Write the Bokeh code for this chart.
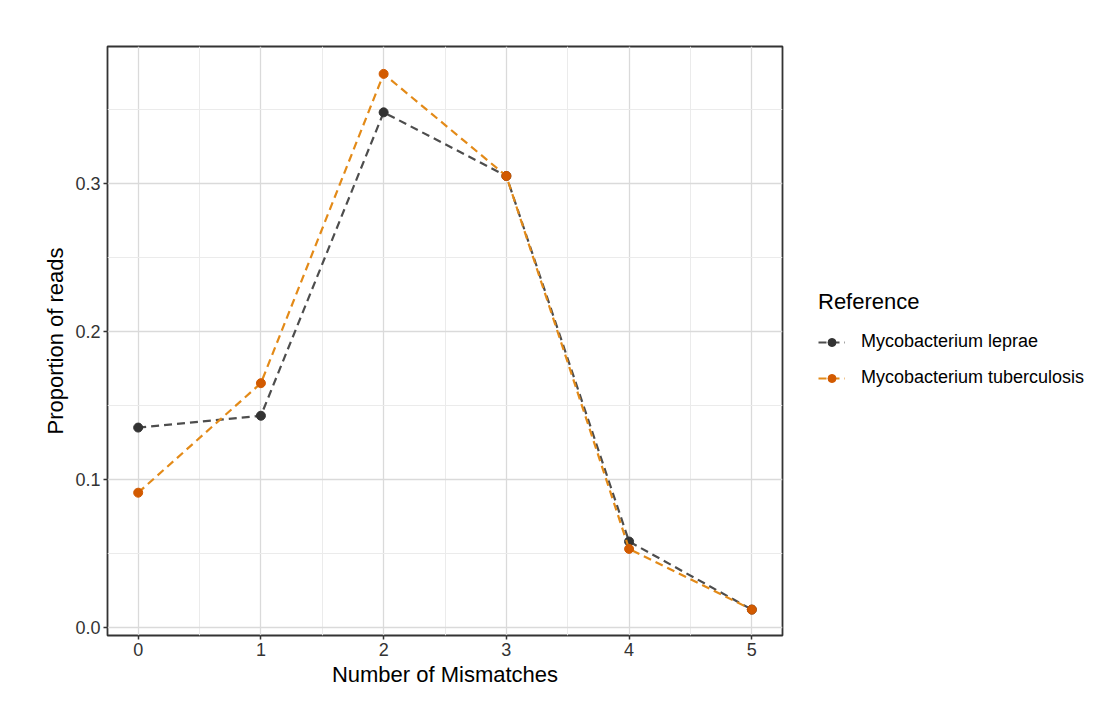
from bokeh.plotting import figure
from bokeh.models import Range1d, FixedTicker, NumeralTickFormatter, Legend, LegendItem, ColumnDataSource
from bokeh.embed import file_html
from bokeh.resources import INLINE

mismatches = [0, 1, 2, 3, 4, 5]
leprae = [0.135, 0.143, 0.348, 0.305, 0.058, 0.012]
tuberculosis = [0.091, 0.165, 0.374, 0.305, 0.053, 0.012]
x_ticks = [0, 1, 2, 3, 4, 5]
y_ticks = [0.0, 0.1, 0.2, 0.3]
series_names = ["Mycobacterium leprae", "Mycobacterium tuberculosis"]

FONT = "Liberation Sans"

p = figure(frame_width=675, frame_height=589, output_backend="svg", toolbar_location=None,
           x_range=Range1d(-0.25, 5.25), y_range=Range1d(-0.0055, 0.3925),
           min_border_left=107, min_border_top=46, min_border_bottom=55, min_border_right=0,
           background_fill_color="white", border_fill_color="white")

p.outline_line_color = "#333333"
p.outline_line_width = 1.8

p.xaxis.ticker = FixedTicker(ticks=x_ticks, minor_ticks=[0.5, 1.5, 2.5, 3.5, 4.5])
p.yaxis.ticker = FixedTicker(ticks=y_ticks, minor_ticks=[0.05, 0.15, 0.25, 0.35])
p.yaxis.formatter = NumeralTickFormatter(format="0.0")

for ax in (p.xaxis, p.yaxis):
    ax.axis_line_color = None
    ax.major_tick_line_color = "#333333"
    ax.major_tick_line_width = 1.5
    ax.major_tick_out = 4
    ax.major_tick_in = 0
    ax.minor_tick_line_color = None
    ax.major_label_text_font = FONT
    ax.major_label_text_font_size = "18px"
    ax.major_label_text_color = "#333333"
    ax.axis_label_text_font = FONT
    ax.axis_label_text_font_size = "22px"
    ax.axis_label_text_font_style = "normal"
    ax.axis_label_text_color = "black"

p.xaxis.axis_label = "Number of Mismatches"
p.yaxis.axis_label = "Proportion of reads"
p.xaxis.major_label_standoff = 3
p.xaxis.axis_label_standoff = 3
p.yaxis.major_label_standoff = 3
p.yaxis.axis_label_standoff = 4

for g in (p.xgrid, p.ygrid):
    g.grid_line_color = "#DADADA"
    g.grid_line_width = 1.3
    g.minor_grid_line_color = "#EBEBEB"
    g.minor_grid_line_width = 1.0

src = ColumnDataSource(dict(x=mismatches, lep=leprae, tub=tuberculosis))

l1 = p.line("x", "lep", source=src, line_color="#4d4d4d", line_width=2.2, line_dash="8 5")
s1 = p.scatter("x", "lep", source=src, size=9, fill_color="#333333", line_color="#333333")
l2 = p.line("x", "tub", source=src, line_color="#E38A18", line_width=2.2, line_dash="8 5")
s2 = p.scatter("x", "tub", source=src, size=9, fill_color="#D25A00", line_color="#D25A00")

legend = Legend(items=[LegendItem(label=series_names[0], renderers=[l1, s1]),
                       LegendItem(label=series_names[1], renderers=[l2, s2])],
                location=(36, 247), title="Reference",
                title_text_font=FONT, title_text_font_size="22px", title_text_color="black",
                title_text_font_style="normal", title_standoff=16,
                label_text_font=FONT, label_text_font_size="18px", label_text_color="black",
                glyph_width=27, glyph_height=20, spacing=15, label_standoff=16,
                border_line_color=None, background_fill_alpha=0, padding=0, margin=0)
p.add_layout(legend, "right")

open("out.html", "w").write(file_html(p, INLINE))
